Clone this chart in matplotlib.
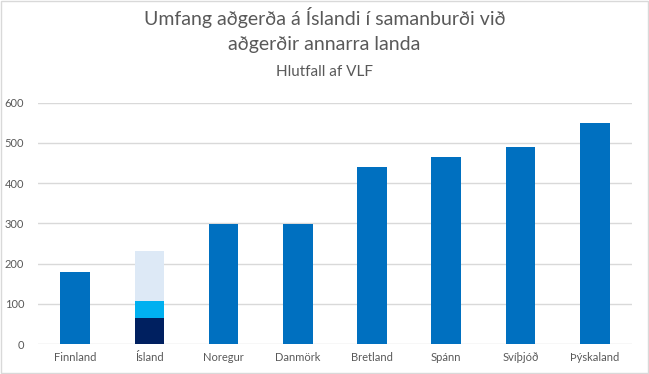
import matplotlib.pyplot as plt
import numpy as np

# data
lond = ['Finnland', 'Ísland', 'Noregur', 'Danmörk', 'Bretland', 'Spánn', 'Svíþjóð', 'Þýskaland']
umfang = [179, 0, 298, 298, 441, 464, 490, 550]
# stacked parts for Ísland
island_hlutar = [65, 42, 125]
island_litir = ['#002060', '#00B0F0', '#DDE9F6']

plt.rcParams['font.family'] = ['Lato', 'DejaVu Sans']
grey = '#595959'

fig = plt.figure(figsize=(6.49, 3.74), dpi=100)
ax = fig.add_axes([0.0586, 0.080, 0.915, 0.6454])

x = np.arange(len(lond))
ax.bar(x, umfang, width=0.4, color='#0070C0', zorder=3)

# Ísland stacked bar
i = lond.index('Ísland')
bottom = 0
for h, c in zip(island_hlutar, island_litir):
    ax.bar(x[i], h, bottom=bottom, width=0.4, color=c, zorder=3)
    bottom += h

ax.set_ylim(0, 600)
ax.set_xlim(-0.5, len(lond) - 0.5)
ax.set_yticks(range(0, 601, 100))
ax.set_xticks(x)
ax.set_xticklabels(lond)
ax.grid(axis='y', color='#D9D9D9', linewidth=1, zorder=0)
for s in ax.spines.values():
    s.set_visible(False)
ax.tick_params(length=0, colors=grey, labelsize=8)
ax.tick_params(axis='x', pad=6)
ax.tick_params(axis='y', pad=10)

fig.text(0.5, 0.952, 'Umfang aðgerða á Íslandi í samanburði við', ha='center', va='center',
         fontsize=14, color=grey)
fig.text(0.5, 0.880, 'aðgerðir annarra landa', ha='center', va='center',
         fontsize=14, color=grey)
fig.text(0.5, 0.808, 'Hlutfall af VLF', ha='center', va='center',
         fontsize=11, color=grey)

# light border round the chart
fig.patches.append(plt.Rectangle((0.001, 0.002), 0.997, 0.995, transform=fig.transFigure,
                                 fill=False, edgecolor='#D9D9D9', linewidth=1))

fig.savefig('out.png', dpi=100)
